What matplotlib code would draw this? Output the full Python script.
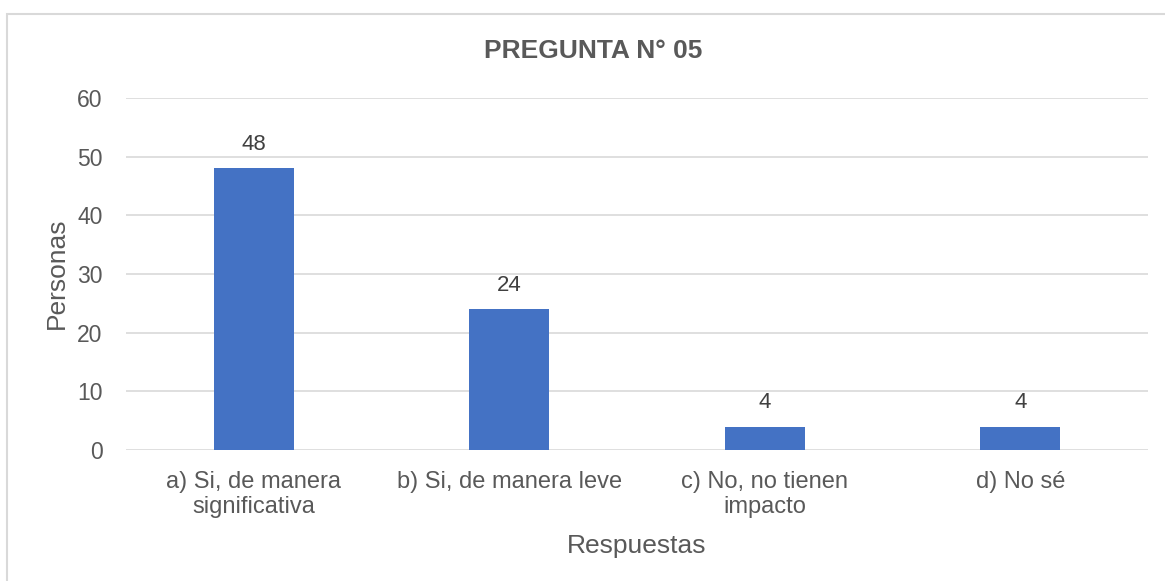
import matplotlib as mpl
mpl.use("agg")
import matplotlib.pyplot as plt
from matplotlib.patches import Rectangle

categorias = ["a) Si, de manera\nsignificativa", "b) Si, de manera leve",
              "c) No, no tienen\nimpacto", "d) No sé"]
personas = [48, 24, 4, 4]
yticks = [0, 10, 20, 30, 40, 50, 60]

plt.rcParams["font.family"] = ["Liberation Sans", "DejaVu Sans"]

fig = plt.figure(figsize=(11.65, 5.81), dpi=100)
ax = fig.add_axes([126 / 1165, 1 - 450 / 581, (1148 - 126) / 1165, (450 - 98) / 581])

# marco del grafico
fig.patches.append(Rectangle((7 / 1165, -0.1), 1.2, 1 - 14 / 581 + 0.1,
                             transform=fig.transFigure, fill=False,
                             edgecolor="#D9D9D9", linewidth=1.5, clip_on=False))

x = range(len(categorias))
bars = ax.bar(x, personas, width=0.313, color="#4472C4", zorder=3)
for b, v in zip(bars, personas):
    ax.text(b.get_x() + b.get_width() / 2, v + 3.1, str(v), ha="center", va="baseline",
            fontsize=16, color="#404040")

ax.set_xlim(-0.5, 3.5)
ax.set_ylim(0, 60)
ax.set_yticks(yticks)
ax.set_xticks(list(x))
ax.set_xticklabels(categorias, fontsize=17, color="#595959", linespacing=1.2)
ax.tick_params(axis="y", labelsize=16.5, labelcolor="#595959", length=0, pad=17)
ax.tick_params(axis="x", length=0, pad=15)
ax.grid(axis="y", color="#D9D9D9", linewidth=1.2, zorder=0)
for s in ax.spines.values():
    s.set_visible(False)

fig.text(593 / 1165, 1 - 51 / 581, "PREGUNTA N° 05", fontsize=19, fontweight="bold",
         color="#595959", ha="center", va="center")
fig.text(57 / 1165, 1 - 273 / 581, "Personas", fontsize=19, color="#595959",
         rotation=90, ha="center", va="center")
fig.text(637 / 1165, 1 - 553 / 581, "Respuestas", fontsize=19, color="#595959",
         ha="center", va="baseline")

fig.savefig("out.png", dpi=100)
